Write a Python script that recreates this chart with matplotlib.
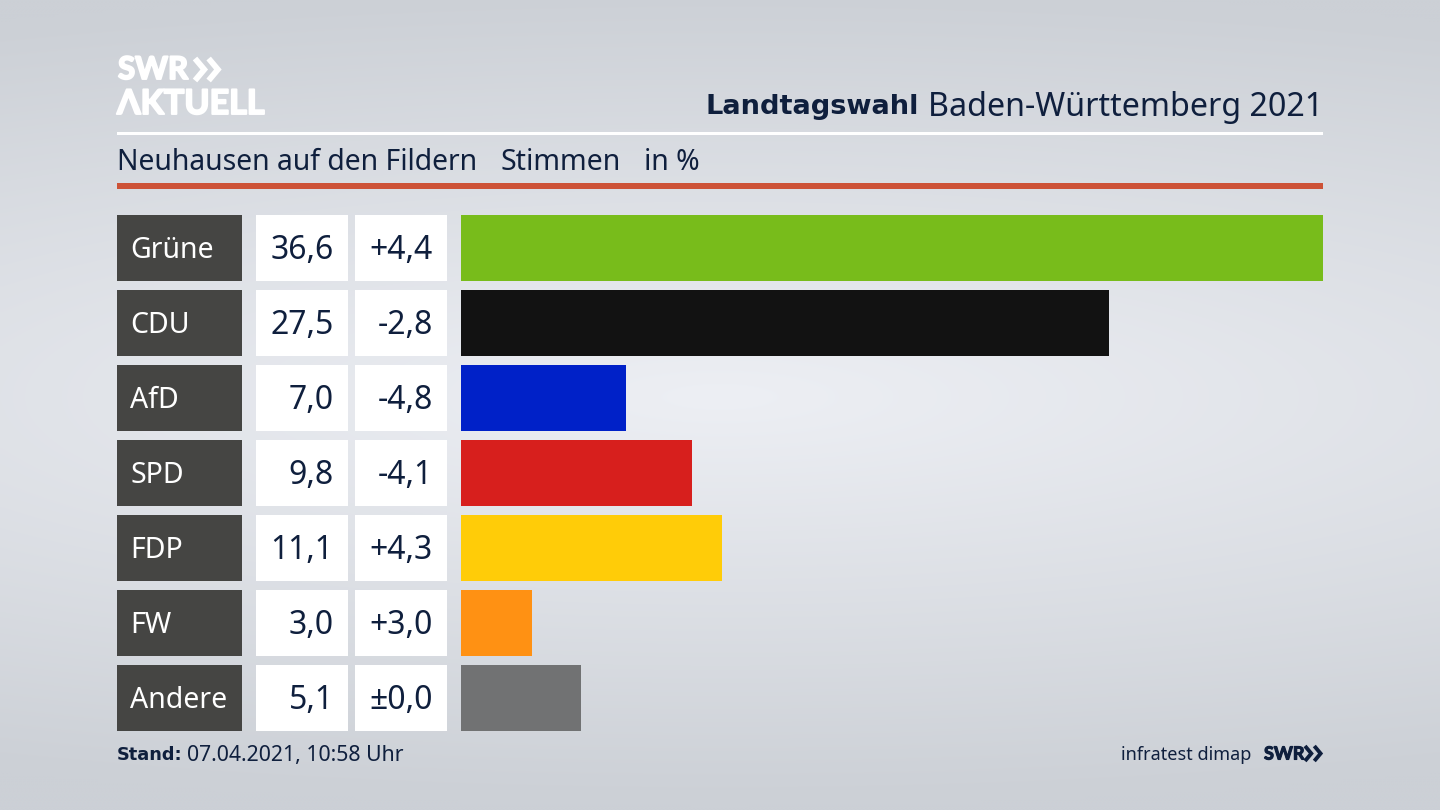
import numpy as np
import matplotlib
matplotlib.use('Agg')
import matplotlib.pyplot as plt
import matplotlib.patheffects as pe
from matplotlib.patches import Rectangle

parties = ['Grüne', 'CDU', 'AfD', 'SPD', 'FDP', 'FW', 'Andere']
shares = [36.6, 27.5, 7.0, 9.8, 11.1, 3.0, 5.1]
changes = ['+4,4', '-2,8', '-4,8', '-4,1', '+4,3', '+3,0', '±0,0']
colors = ['#78bc1b', '#121212', '#0021c8', '#d71f1d', '#ffcc08', '#ff9113', '#717273']

navy = '#0f1f3d'
plt.rcParams['font.family'] = ['Noto Sans', 'DejaVu Sans']

W, H = 1440, 810
fig = plt.figure(figsize=(14.4, 8.1), dpi=100)

# background, pixel coordinates
bg = fig.add_axes([0, 0, 1, 1])
bg.set_xlim(0, W)
bg.set_ylim(H, 0)
bg.axis('off')
xx, yy = np.meshgrid(np.linspace(-1, 1, 360), np.linspace(-1, 1, 200))
glow = np.clip(1 - np.sqrt((xx * 0.4) ** 2 + ((yy + 0.02) * 1.0) ** 2), 0, 1)
shade = np.zeros((200, 360, 3))
for c, (lo, hi) in enumerate([(204, 237), (208, 239), (214, 244)]):
    shade[:, :, c] = (lo + (hi - lo) * glow) / 255
bg.imshow(shade, extent=[0, W, H, 0], aspect='auto', interpolation='bicubic')


def chevrons(x, y, h, lw, color):
    # the two arrow heads of the SWR logo
    for dx in (0, h * 0.62):
        bg.plot([x + dx, x + dx + h * 0.42, x + dx], [y - h / 2, y, y + h / 2],
                color=color, lw=lw, solid_joinstyle='miter', solid_capstyle='butt')


def logo_text(x, y, s, size, color, stroke):
    bg.text(x, y, s, color=color, fontsize=size, fontweight='bold', family='Lato', va='center',
            path_effects=[pe.withStroke(linewidth=stroke, foreground=color)])


# header
logo_text(118, 70, 'SWR', 22.5, 'white', 1.4)
chevrons(195, 69.5, 22, 4.2, 'white')
logo_text(117, 104, 'ΛKTUELL', 24.5, 'white', 1.4)
t = bg.text(1323, 107, 'Baden-Württemberg 2021', color=navy, fontsize=23.2, ha='right', va='center')
fig.canvas.draw()
x0 = t.get_window_extent().x0
bg.text(x0 - 9, 107, 'Landtagswahl', color=navy, fontsize=19.6, fontweight='bold',
        family='DejaVu Sans', ha='right', va='center')
bg.add_patch(Rectangle((117, 132), 1206, 3, color='white', lw=0))
bg.text(117, 162, 'Neuhausen auf den Fildern', color=navy, fontsize=20.4, va='center')
bg.text(500, 162, 'Stimmen', color=navy, fontsize=20.5, va='center')
bg.text(644, 162, 'in %', color=navy, fontsize=20.4, va='center')
bg.add_patch(Rectangle((117, 183), 1206, 6, color='#cd5237', lw=0))

# table cells next to the bars
row_top = 215
row_step = 75
row_h = 66.3
for i, party in enumerate(parties):
    y = row_top + i * row_step
    mid = y + row_h / 2
    bg.add_patch(Rectangle((117, y), 124.5, row_h, color='#454543', lw=0))
    bg.add_patch(Rectangle((255.5, y), 92.5, row_h, color='white', lw=0))
    bg.add_patch(Rectangle((355, y), 92, row_h, color='white', lw=0))
    bg.text(130.5, mid + 2.5, party, color='white', fontsize=20.5, va='center')
    bg.text(333.5, mid + 2.5, f'{shares[i]:.1f}'.replace('.', ','), color=navy, fontsize=23, ha='right', va='center')
    bg.text(433, mid + 2.5, changes[i], color=navy, fontsize=23, ha='right', va='center')

# footer
bg.text(117, 755, 'Stand:', color=navy, fontsize=12.8, fontweight='bold', family='DejaVu Sans', va='center')
bg.text(187, 756, '07.04.2021, 10:58 Uhr', color=navy, fontsize=15.3, va='center')
bg.text(1251, 755, 'infratest dimap', color=navy, fontsize=13, ha='right', va='center')
logo_text(1264, 754, 'SWR', 13, navy, 0.8)
chevrons(1305, 753.5, 15, 2.8, navy)

# bars
ax = fig.add_axes([461 / W, 1 - (row_top + 6 * row_step + row_h) / H, 862 / W, (6 * row_step + row_h) / H])
ax.patch.set_alpha(0)
pos = np.arange(len(parties))
ax.barh(pos, shares, height=row_h / row_step, color=colors)
ax.set_xlim(0, 36.6)
ax.set_ylim(len(parties) - 1 + row_h / row_step / 2, -row_h / row_step / 2)
ax.axis('off')

fig.savefig('out.png', dpi=100)
